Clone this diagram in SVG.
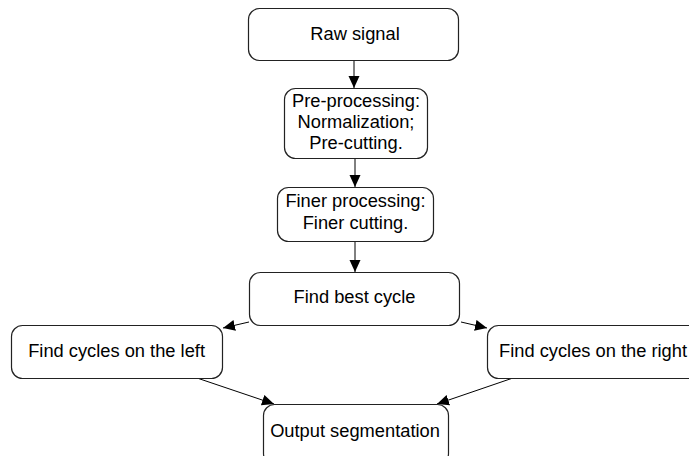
<svg xmlns="http://www.w3.org/2000/svg" width="689" height="456" viewBox="0 0 689 456">
<style>
.box{fill:#fff;stroke:#222;stroke-width:1.2}
.t{font-family:"Liberation Sans",Arial,sans-serif;font-size:18.3px;fill:#000;text-anchor:middle}
.c{stroke:#000;stroke-width:1;fill:none;marker-end:url(#ah)}
</style>
<defs>
<marker id="ah" markerUnits="userSpaceOnUse" markerWidth="13" markerHeight="12" refX="12" refY="5.5" orient="auto">
<path d="M0,0 L12,5.5 L0,11 z" fill="#000"/>
</marker>
</defs>
<rect width="689" height="456" fill="#fff"/>
<g id="connectors">
<line class="c" x1="354" y1="60" x2="354" y2="88"/>
<line class="c" x1="355" y1="158" x2="355" y2="187"/>
<line class="c" x1="355" y1="241" x2="355" y2="272"/>
<line class="c" x1="249" y1="322" x2="223" y2="328"/>
<line class="c" x1="461" y1="322" x2="487" y2="328"/>
<line class="c" x1="197" y1="378" x2="274" y2="404"/>
<line class="c" x1="513" y1="378" x2="437" y2="404"/>
</g>
<g id="raw">
<rect class="box" x="248.5" y="8.5" width="210" height="52" rx="11"/>
<text class="t" x="355" y="39.5">Raw signal</text>
</g>
<g id="pre">
<rect class="box" x="284.5" y="88.5" width="143" height="70" rx="11"/>
<text class="t" x="356" y="107">Pre-processing:</text>
<text class="t" x="356" y="128">Normalization;</text>
<text class="t" x="356" y="149">Pre-cutting.</text>
</g>
<g id="finer">
<rect class="box" x="277.5" y="187.5" width="156" height="54" rx="11"/>
<text class="t" x="355.5" y="207">Finer processing:</text>
<text class="t" x="355.5" y="229">Finer cutting.</text>
</g>
<g id="best">
<rect class="box" x="249.5" y="272.5" width="210" height="53" rx="11"/>
<text class="t" x="354.5" y="303">Find best cycle</text>
</g>
<g id="left">
<rect class="box" x="11.5" y="325.5" width="211" height="53" rx="11"/>
<text class="t" x="116.6" y="357">Find cycles on the left</text>
</g>
<g id="right">
<rect class="box" x="487.5" y="325.5" width="212" height="53" rx="11"/>
<text class="t" x="593" y="357">Find cycles on the right</text>
</g>
<g id="output">
<rect class="box" x="263.5" y="404.5" width="185" height="60" rx="11"/>
<text class="t" x="355" y="437">Output segmentation</text>
</g>
</svg>
